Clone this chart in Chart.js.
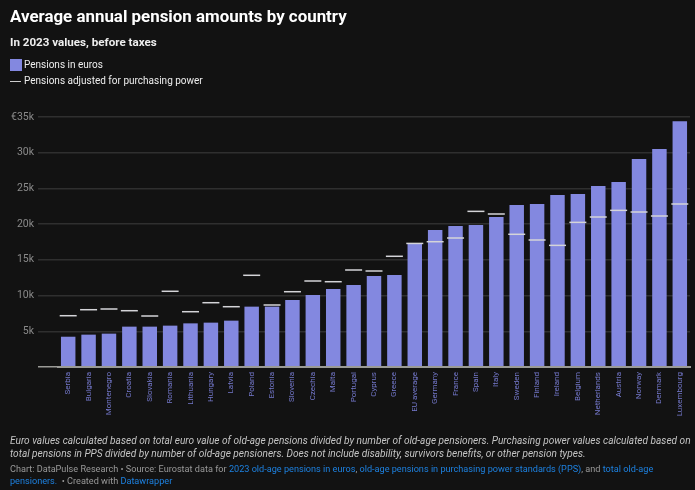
<!DOCTYPE html>
<html>
<head>
<meta charset="utf-8">
<title>Average annual pension amounts by country</title>
<script src="https://cdn.jsdelivr.net/npm/chart.js@4/dist/chart.umd.min.js"></script>
<style>
  html, body { margin: 0; padding: 0; background: #121212; }
  body { width: 695px; height: 490px; position: relative; overflow: hidden; font-family: Roboto, sans-serif; }
  #pensionChart { position: absolute; left: 0; top: 0; }
  .txt { position: absolute; white-space: nowrap; }
  #title { left: 10px; top: 5px; font-size: 16.9px; font-weight: 700; color: #fff; line-height: 22px; }
  #subtitle { left: 10px; top: 34px; font-size: 11.6px; font-weight: 700; color: #eee; line-height: 16px; }
  .legend { left: 24px; font-size: 10px; color: #eee; line-height: 14px; }
  #swatch { position: absolute; left: 10px; top: 59px; width: 12px; height: 12px; background: #8388e0; }
  #dash { position: absolute; left: 10px; top: 81px; width: 11px; height: 1px; background: #ccc; }
  #note { left: 10px; top: 433.5px; font-size: 10.1px; font-style: italic; color: #c4c4c4; line-height: 13.5px; }
  #source { left: 10px; top: 464px; font-size: 9.15px; color: #999; line-height: 11.5px; }
  #source a { color: #1d81e0; text-decoration: none; }
</style>
</head>
<body>
<canvas id="pensionChart" width="695" height="490"></canvas>
<div class="txt" id="title">Average annual pension amounts by country</div>
<div class="txt" id="subtitle">In 2023 values, before taxes</div>
<div id="swatch"></div>
<div class="txt legend" style="top:58px">Pensions in euros</div>
<div id="dash"></div>
<div class="txt legend" style="top:74px">Pensions adjusted for purchasing power</div>
<div class="txt" id="note">Euro values calculated based on total euro value of old-age pensions divided by number of old-age pensioners. Purchasing power values calculated based on<br>total pensions in PPS divided by number of old-age pensioners. Does not include disability, survivors benefits, or other pension types.</div>
<div class="txt" id="source">Chart: DataPulse Research &bull; Source: Eurostat data for <a href="#">2023 old-age pensions in euros</a>, <a href="#">old-age pensions in purchasing power standards (PPS)</a>, and <a href="#">total old-age</a><br><a href="#">pensioners.</a>&nbsp; &bull; Created with <a href="#">Datawrapper</a></div>

<script>
const countries = ['Serbia', 'Bulgaria', 'Montenegro', 'Croatia', 'Slovakia', 'Romania', 'Lithuania', 'Hungary', 'Latvia', 'Poland',
    'Estonia', 'Slovenia', 'Czechia', 'Malta', 'Portugal', 'Cyprus', 'Greece', 'EU average', 'Germany', 'France', 'Spain',
    'Italy', 'Sweden', 'Finland', 'Ireland', 'Belgium', 'Netherlands', 'Austria', 'Norway', 'Denmark', 'Luxembourg'];

const pensionsEuro = [4240, 4530, 4670, 5650, 5650, 5790, 6110, 6210, 6490, 8450,
    8450, 9380, 10080, 10920, 11480, 12740, 12880, 17300, 19180, 19740, 19880,
    21000, 22680, 22820, 24080, 24220, 25340, 25900, 29120, 30520, 34400];

const pensionsPps = [7180, 8020, 8120, 7880, 7140, 10600, 7740, 9000, 8440, 12840,
    8680, 10540, 12040, 11940, 13580, 13440, 15500, 17300, 17540, 18060, 21790,
    21420, 18580, 17780, 17030, 20250, 21000, 21930, 21700, 21140, 22820];

const yTicks = { 5000: '5k', 10000: '10k', 15000: '15k', 20000: '20k', 25000: '25k', 30000: '30k', 35000: '€35k' };

// Colour the zero line lighter than the rest of the grid
const gridColor = ctx => (ctx.tick && ctx.tick.value === 0) ? '#9a9a96' : '#2f2f2f';

new Chart(document.getElementById('pensionChart'), {
    type: 'bar',
    data: {
        labels: countries,
        datasets: [
            {
                type: 'line',
                label: 'Pensions adjusted for purchasing power',
                data: pensionsPps,
                showLine: false,
                pointStyle: 'line',
                pointRadius: 8.5,
                pointBorderWidth: 1.5,
                pointBorderColor: '#d4d4d8',
                clip: false,
                order: 1
            },
            {
                label: 'Pensions in euros',
                data: pensionsEuro,
                backgroundColor: '#8388e0',
                barPercentage: 0.71,
                categoryPercentage: 1,
                order: 2
            }
        ]
    },
    options: {
        responsive: false,
        animation: false,
        // autoPadding would reserve room for the wide dash points
        layout: { autoPadding: false, padding: { top: 117, right: 5, left: 0, bottom: 0 } },
        plugins: { legend: { display: false }, tooltip: { enabled: false } },
        scales: {
            x: {
                afterFit: scale => { scale.height = 123; },
                grid: { display: false },
                border: { color: '#9a9a96', width: 2, z: 1 },
                ticks: {
                    autoSkip: false,
                    minRotation: 90,
                    maxRotation: 90,
                    padding: -3,
                    color: '#7478cc',
                    font: { family: 'Roboto', size: 8 }
                }
            },
            y: {
                min: 0,
                max: 35000,
                afterFit: scale => { scale.width = 58; },
                border: { display: false },
                grid: { color: gridColor, tickColor: gridColor, tickLength: 20, lineWidth: 1.5 },
                ticks: {
                    stepSize: 5000,
                    padding: 4,
                    color: '#8a8a8a',
                    font: { family: 'Roboto', size: 10.5 },
                    callback: value => yTicks[value] || ''
                }
            }
        }
    }
});
</script>
</body>
</html>
